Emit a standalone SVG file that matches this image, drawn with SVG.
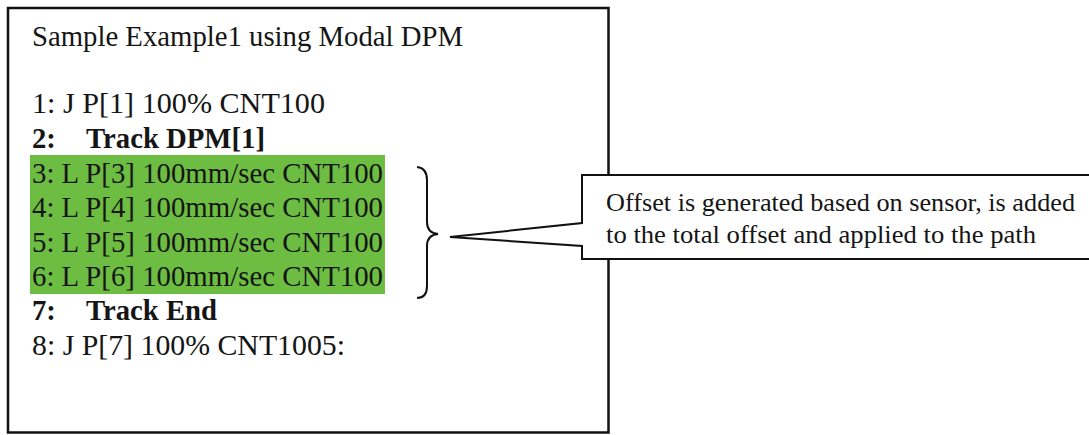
<svg xmlns="http://www.w3.org/2000/svg" width="1089" height="435" viewBox="0 0 1089 435">
<style>
  .t { font-family: "Liberation Serif", "Times New Roman", serif; font-size: 28.7px; fill: #151515; }
  .b { font-weight: bold; }
  .c { font-family: "Liberation Serif", "Times New Roman", serif; font-size: 26px; fill: #151515; }
  .ln { fill: none; stroke: #111; stroke-width: 2; }
</style>
<rect width="1089" height="435" fill="#ffffff"/>
<g id="program">
  <rect x="8" y="8" width="600.5" height="424.5" fill="#ffffff" stroke="#111" stroke-width="2.5"/>
  <rect x="30" y="155" width="355" height="139" fill="#6cbd42"/>
  <text class="t" x="32" y="46" textLength="431" lengthAdjust="spacingAndGlyphs">Sample Example1 using Modal DPM</text>
  <text class="t" x="32" y="113" textLength="293" lengthAdjust="spacingAndGlyphs">1: J P[1] 100% CNT100</text>
  <text class="t b" x="32" y="148">2:</text>
  <text class="t b" x="86" y="148" textLength="179" lengthAdjust="spacingAndGlyphs">Track DPM[1]</text>
  <text class="t" x="32" y="183" textLength="351" lengthAdjust="spacingAndGlyphs">3: L P[3] 100mm/sec CNT100</text>
  <text class="t" x="32" y="217" textLength="351" lengthAdjust="spacingAndGlyphs">4: L P[4] 100mm/sec CNT100</text>
  <text class="t" x="32" y="252" textLength="351" lengthAdjust="spacingAndGlyphs">5: L P[5] 100mm/sec CNT100</text>
  <text class="t" x="32" y="286" textLength="351" lengthAdjust="spacingAndGlyphs">6: L P[6] 100mm/sec CNT100</text>
  <text class="t b" x="32" y="320">7:</text>
  <text class="t b" x="86" y="320" textLength="131" lengthAdjust="spacingAndGlyphs">Track End</text>
  <text class="t" x="32" y="355" textLength="313" lengthAdjust="spacingAndGlyphs">8: J P[7] 100% CNT1005:</text>
</g>
<g id="connectors">
  <path class="ln" d="M417,167 Q427,168 427,180 L427,222 Q427,233 438,234 Q427,235 427,246 L427,286 Q427,298 417,298"/>
</g>
<g id="callout">
  <path d="M582,175 L1092,175 L1092,259 L582,259 L582,246 L450,237 L582,223 Z" fill="#ffffff" stroke="#111" stroke-width="2"/>
  <text class="c" x="606" y="211" textLength="469" lengthAdjust="spacingAndGlyphs">Offset is generated based on sensor, is added</text>
  <text class="c" x="606" y="243" textLength="430" lengthAdjust="spacingAndGlyphs">to the total offset and applied to the path</text>
</g>
</svg>
